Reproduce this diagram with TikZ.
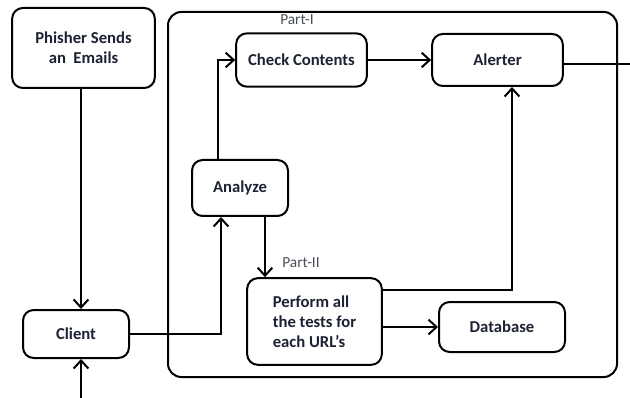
\documentclass[tikz,border=0pt]{standalone}
\usepackage{fontspec}
\setmainfont{Carlito}
\usetikzlibrary{positioning, arrows.meta}
\usepackage{xcolor}
\definecolor{PartGrey}{HTML}{4A4F5A}
\definecolor{BoxText}{HTML}{1C2233}

\begin{document}
\begin{tikzpicture}[x=0.75pt, y=-0.75pt, line width=1.5pt,
    box/.style={draw, line width=1.5pt, rounded corners=8pt, align=center, text=BoxText,
        font=\fontsize{12.5}{15}\selectfont\bfseries},
    arr/.style={line width=1.5pt, -{Straight Barb[length=6pt, width=11pt]}},
    partlabel/.style={font=\fontsize{11.5}{13}\selectfont, text=PartGrey}]
    \useasboundingbox (0,0) rectangle (630,398);

    % Outer frame
    \draw[rounded corners=10pt] (168,12) rectangle (617,377);

    % Boxes
    \node[box, minimum width=107pt, minimum height=60pt] (phisher) at (83.5,48) {Phisher Sends\\an\ \ Emails};
    \node[box, minimum width=98pt, minimum height=40pt] (check) at (301.5,60) {Check Contents};
    \node[box, minimum width=98pt, minimum height=39pt] (alerter) at (497.5,60) {Alerter};
    \node[box, minimum width=72pt, minimum height=42pt] (analyze) at (240,188) {Analyze};
    \node[box, minimum width=79.5pt, minimum height=36pt] (client) at (76,334) {Client};
    \node[box, minimum width=101pt, minimum height=65pt, align=left] (perform) at (314.5,321.5) {Perform all\\the tests for\\each URL's};
    \node[box, minimum width=94.5pt, minimum height=37.5pt] (database) at (502,327) {Database};

    % Labels
    \node[partlabel] (part1) at (297,20) {Part-I};
    \node[partlabel] (part2) at (301,263) {Part-II};

    % Loose ends
    \coordinate (incoming) at (81,398);
    \coordinate (outgoing) at (630,64);

    % Arrows
    \draw[arr] (phisher.south -| incoming) -- (incoming |- client.north);
    \draw[arr] (incoming) -- (incoming |- client.south);
    \draw[arr] (client.east) -| ([xshift=22.5pt]analyze.south west);
    \draw[arr] ([xshift=20.25pt]analyze.north west) |- (check.west);
    \draw[arr] (check.east) -- (check.east -| alerter.west);
    \draw[arr] ([xshift=-18pt]analyze.south east) -- ([xshift=-18pt]analyze.south east |- perform.north);
    \draw[arr] ([yshift=23.625pt]perform.east) -| ([xshift=10.875pt]alerter.south);
    \draw[arr] (perform.east |- database.west) -- (database.west);
    \draw (alerter.east |- outgoing) -- (outgoing);
\end{tikzpicture}
\end{document}
